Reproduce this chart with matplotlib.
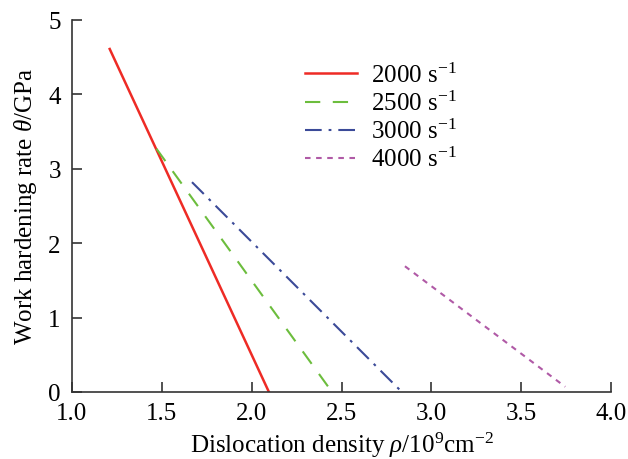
import matplotlib
matplotlib.use("Agg")
import matplotlib.pyplot as plt

plt.rcParams['font.family'] = ['Liberation Serif', 'DejaVu Serif']
plt.rcParams['mathtext.fontset'] = 'custom'
plt.rcParams['mathtext.rm'] = 'Liberation Serif'
plt.rcParams['mathtext.it'] = 'Liberation Serif:italic'
plt.rcParams['lines.scale_dashes'] = False

labels = ['2000 s$^{-1}$', '2500 s$^{-1}$', '3000 s$^{-1}$', '4000 s$^{-1}$']
rho_2000 = [1.21, 2.096]
theta_2000 = [4.61, 0.0]
rho_2500 = [1.47, 2.447]
theta_2500 = [3.27, 0.0]
rho_3000 = [1.668, 2.836]
theta_3000 = [2.82, 0.0]
rho_4000 = [2.853, 3.745]
theta_4000 = [1.69, 0.07]

colors = ['#ee2b25', '#6cbd3d', '#3b4a98', '#b05aa6']

fig = plt.figure(figsize=(6.28, 4.6), dpi=100)
ax = fig.add_axes([0.1146, 0.1457, 0.8584, 0.8087])

ax.plot(rho_2000, theta_2000, color=colors[0], lw=1.8, label=labels[0])
ax.plot(rho_2500, theta_2500, color=colors[1], lw=1.5, dashes=(11, 9), label=labels[1])
ax.plot(rho_3000, theta_3000, color=colors[2], lw=1.5, dashes=(12, 5, 2, 5), label=labels[2])
ax.plot(rho_4000, theta_4000, color=colors[3], lw=1.5, dashes=(4, 4), label=labels[3])

ax.set_xlim(1.0, 4.0)
ax.set_ylim(0, 5)
ax.set_xticks([1.0, 1.5, 2.0, 2.5, 3.0, 3.5, 4.0])
ax.set_xticklabels(['1.0', '1.5', '2.0', '2.5', '3.0', '3.5', '4.0'])
ax.set_yticks([0, 1, 2, 3, 4, 5])
for s in ['top', 'right']:
    ax.spines[s].set_visible(False)
for s in ['left', 'bottom']:
    ax.spines[s].set_linewidth(1.2)
    ax.spines[s].set_color('#333333')
ax.tick_params(direction='in', length=7, width=1.2, labelsize=18, colors='#333333', labelcolor='black')
ax.tick_params(axis='x', pad=7)
ax.tick_params(axis='y', pad=8)

ax.set_xlabel(r'Dislocation density $\it{\rho}$/10$^{9}$cm$^{-2}$', fontsize=18, labelpad=4)
ax.set_ylabel(r'Work hardening rate $\it{\theta}$/GPa', fontsize=18, labelpad=7)

ax.legend(loc='upper left', bbox_to_anchor=(0.39, 0.945), frameon=False, fontsize=18,
          handlelength=2.1, handletextpad=0.55, labelspacing=0.15)

fig.savefig('out.png', dpi=100)
